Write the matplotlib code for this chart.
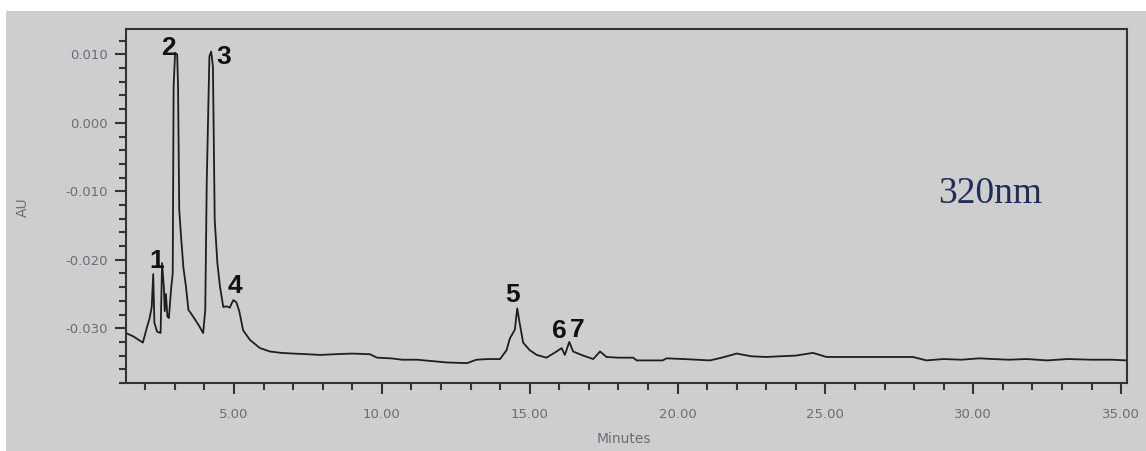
import matplotlib
matplotlib.use("Agg")
import matplotlib.pyplot as plt
from matplotlib.patches import Rectangle
from matplotlib.ticker import FixedLocator, FixedFormatter, MultipleLocator

# Retention time (min) and absorbance (AU) of the 320 nm trace
time_min = [
    1.35, 1.6, 1.92, 2.05, 2.15, 2.22, 2.27, 2.31, 2.40, 2.52, 2.57, 2.63,
    2.66, 2.70, 2.75, 2.80, 2.88, 2.93, 2.96, 3.01, 3.08, 3.11, 3.15, 3.22,
    3.29, 3.38, 3.46, 3.62, 3.80, 3.96, 4.03, 4.08, 4.17, 4.23, 4.29, 4.35,
    4.44, 4.53, 4.64, 4.75, 4.86, 4.92, 4.98, 5.08, 5.18, 5.31, 5.54, 5.88,
    6.22, 6.6, 7.0, 7.5, 7.91, 8.4, 9.0, 9.6, 9.84, 10.3, 10.7, 11.2, 11.7,
    12.2, 12.88, 13.2, 13.6, 14.0, 14.22, 14.33, 14.50, 14.58, 14.66, 14.78,
    15.0, 15.24, 15.57, 15.91, 16.08, 16.19, 16.34, 16.47, 16.81, 17.15,
    17.38, 17.6, 18.0, 18.5, 18.62, 19.0, 19.5, 19.63, 20.2, 21.1, 21.5,
    22.0, 22.5, 23.0, 23.46, 24.0, 24.58, 25.04, 26.0, 27.0, 27.96, 28.42,
    29.0, 29.6, 30.2, 30.67, 31.2, 31.8, 32.5, 33.2, 34.0, 34.7, 35.2,
]
absorbance = [
    -0.0307, -0.0312, -0.0321, -0.0300, -0.0285, -0.0269, -0.0221, -0.0292,
    -0.0305, -0.0307, -0.0205, -0.0240, -0.0275, -0.0250, -0.0283, -0.0285,
    -0.0240, -0.0220, 0.0053, 0.0102, 0.0100, 0.0053, -0.0127, -0.0171,
    -0.0211, -0.0240, -0.0273, -0.0283, -0.0295, -0.0307, -0.0273, -0.0088,
    0.0097, 0.0104, 0.0082, -0.0142, -0.0205, -0.0240, -0.0269, -0.0268,
    -0.0270, -0.0264, -0.0259, -0.0262, -0.0275, -0.0303, -0.0317, -0.0329,
    -0.0334, -0.0336, -0.0337, -0.0338, -0.0339, -0.0338, -0.0337, -0.0338,
    -0.0343, -0.0344, -0.0346, -0.0346, -0.0348, -0.0350, -0.0351, -0.0346,
    -0.0345, -0.0345, -0.0332, -0.0315, -0.0302, -0.0271, -0.0292, -0.0321,
    -0.0332, -0.0339, -0.0343, -0.0334, -0.0329, -0.0339, -0.0320, -0.0334,
    -0.0340, -0.0345, -0.0334, -0.0342, -0.0343, -0.0343, -0.0347, -0.0347,
    -0.0347, -0.0344, -0.0345, -0.0347, -0.0343, -0.0337, -0.0341, -0.0342,
    -0.0341, -0.0340, -0.0336, -0.0342, -0.0342, -0.0342, -0.0342, -0.0347,
    -0.0345, -0.0346, -0.0344, -0.0345, -0.0346, -0.0345, -0.0347, -0.0345,
    -0.0346, -0.0346, -0.0347,
]

# Peak numbers and where they are written
peak_labels = ["1", "2", "3", "4", "5", "6", "7"]
peak_label_x = [2.40, 2.77, 4.66, 5.03, 14.43, 16.02, 16.60]
peak_label_y = [-0.0202, 0.0109, 0.0096, -0.0238, -0.0251, -0.0304, -0.0302]

x_major_ticks = [5, 10, 15, 20, 25, 30, 35]
x_tick_labels = ["5.00", "10.00", "15.00", "20.00", "25.00", "30.00", "35.00"]
y_major_ticks = [0.010, 0.000, -0.010, -0.020, -0.030]
y_tick_labels = ["0.010", "0.000", "-0.010", "-0.020", "-0.030"]

wavelength_label = "320nm"

BG = "#cecece"
TICK_TEXT = "#6c6c78"
SPINE = "#333333"

W, H = 1146, 451
fig = plt.figure(figsize=(W / 100, H / 100), dpi=100, facecolor="white")
fig.patches.append(Rectangle((6 / W, 0), 1 - 6 / W, 1 - 11 / H,
                             transform=fig.transFigure, facecolor=BG,
                             edgecolor="none", zorder=-10))

ax = fig.add_axes([126 / W, 1 - 383 / H, (1127 - 126) / W, (383 - 29) / H])
ax.set_facecolor(BG)

ax.plot(time_min, absorbance, color="#1e1e1e", lw=1.3)

ax.set_xlim(1.35, 35.2)
ax.set_ylim(-0.038, 0.0137)

ax.xaxis.set_major_locator(FixedLocator(x_major_ticks))
ax.xaxis.set_major_formatter(FixedFormatter(x_tick_labels))
ax.xaxis.set_minor_locator(MultipleLocator(1))
ax.yaxis.set_major_locator(FixedLocator(y_major_ticks))
ax.yaxis.set_major_formatter(FixedFormatter(y_tick_labels))
ax.yaxis.set_minor_locator(MultipleLocator(0.002))

ax.tick_params(which="major", direction="out", length=8, width=1.5,
               color=SPINE, labelcolor=TICK_TEXT, labelsize=9.5)
ax.tick_params(which="minor", direction="out", length=5, width=1.5,
               color=SPINE)
ax.tick_params(axis="x", which="major", pad=10)
ax.tick_params(axis="y", which="major", pad=5)

for s in ax.spines.values():
    s.set_color(SPINE)
    s.set_linewidth(1.5)

fig.text(23 / W, 1 - 207 / H, "AU", rotation=90, ha="center", va="center",
         color=TICK_TEXT, fontsize=10)
fig.text(624 / W, 1 - 439 / H, "Minutes", ha="center", va="center",
         color=TICK_TEXT, fontsize=10)

for lab, px, py in zip(peak_labels, peak_label_x, peak_label_y):
    ax.text(px, py, lab, ha="center", va="center", fontsize=19,
            fontweight="bold", family="Liberation Sans", color="#111111")

fig.text(990 / W, 1 - 194 / H, wavelength_label, ha="center", va="center",
         fontsize=27, family="Liberation Serif", color="#1f2d5a")

fig.savefig("out.png", dpi=100, facecolor=fig.get_facecolor())
